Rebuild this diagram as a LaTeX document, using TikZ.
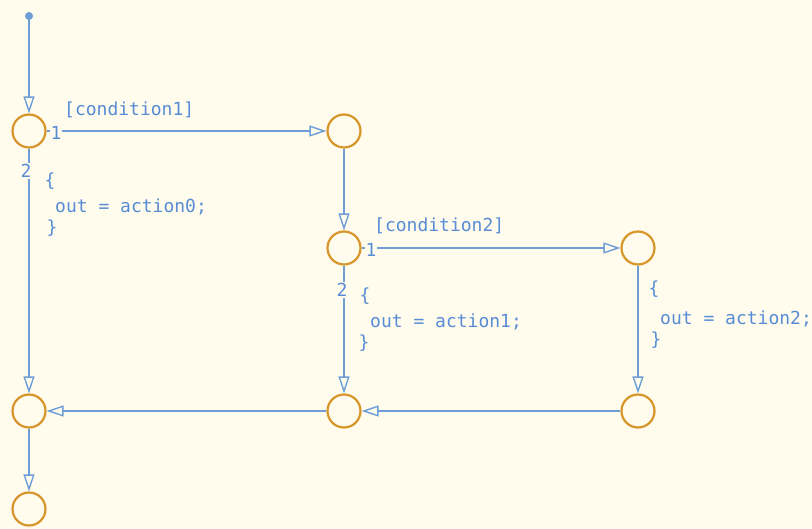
\documentclass[tikz,border=0pt]{standalone}
\usepackage{fontspec}
\newfontfamily\lblfont{DejaVu Sans Mono}
\usetikzlibrary{arrows.meta}
\definecolor{bg}{RGB}{255,252,237}
\definecolor{lineblue}{RGB}{110,158,214}
\definecolor{txtblue}{RGB}{88,140,212}
\definecolor{junc}{RGB}{214,150,42}
\tikzset{
  junction/.style={circle,draw=junc,line width=2.2pt,minimum size=33pt,inner sep=0pt,fill=bg},
  conn/.style={draw=lineblue,line width=1.8pt,-{Triangle[open,length=17pt,width=11pt,line width=1.4pt]}},
  lbl/.style={text=txtblue,font=\lblfont\fontsize{18}{24}\selectfont,inner sep=0pt},
  prio/.style={lbl,fill=bg,inner sep=1pt}
}
\begin{document}
\begin{tikzpicture}[x=1pt,y=-1pt]
\fill[bg] (0,0) rectangle (812,529);
\useasboundingbox (0,0) rectangle (812,529);
% junctions
\node[junction] (A) at (29,131) {};
\node[junction] (B) at (344,131) {};
\node[junction] (C) at (344,248) {};
\node[junction] (D) at (638,248) {};
\node[junction] (E) at (29,411) {};
\node[junction] (F) at (344,411) {};
\node[junction] (G) at (638,411) {};
\node[junction] (H) at (29,509) {};
\fill[lineblue] (29,16) circle (4pt) coordinate (S);
\coordinate (S) at (29,16);
% connectors
\draw[conn] (S) -- (A);
\draw[conn] (A) -- (B);
\draw[conn] (A) -- (E);
\draw[conn] (B) -- (C);
\draw[conn] (C) -- (D);
\draw[conn] (C) -- (F);
\draw[conn] (D) -- (G);
\draw[conn] (G) -- (F);
\draw[conn] (F) -- (E);
\draw[conn] (E) -- (H);
% priority labels
\node[prio] (a1) at (56,133) {1};
\node[prio] (a2) at (26,171) {2};
\node[prio] (c1) at (371,250) {1};
\node[prio] (c2) at (342,290) {2};
% conditions
\node[lbl,anchor=base west] (cond1) at (64,116) {[condition1]};
\node[lbl,anchor=base west] (cond2) at (374,232) {[condition2]};
% actions
\node[lbl] (a0o) at (50,181) {\{};
\node[lbl,anchor=base west] (a0) at (55,212.5) {out = action0;};
\node[lbl] (a0c) at (52,228) {\}};
\node[lbl] (a1o) at (365,296) {\{};
\node[lbl,anchor=base west] (a1t) at (370,328) {out = action1;};
\node[lbl] (a1c) at (364,343) {\}};
\node[lbl] (a2o) at (654,289) {\{};
\node[lbl,anchor=base west] (a2t) at (660,325) {out = action2;};
\node[lbl] (a2c) at (656,340) {\}};
\end{tikzpicture}
\end{document}
